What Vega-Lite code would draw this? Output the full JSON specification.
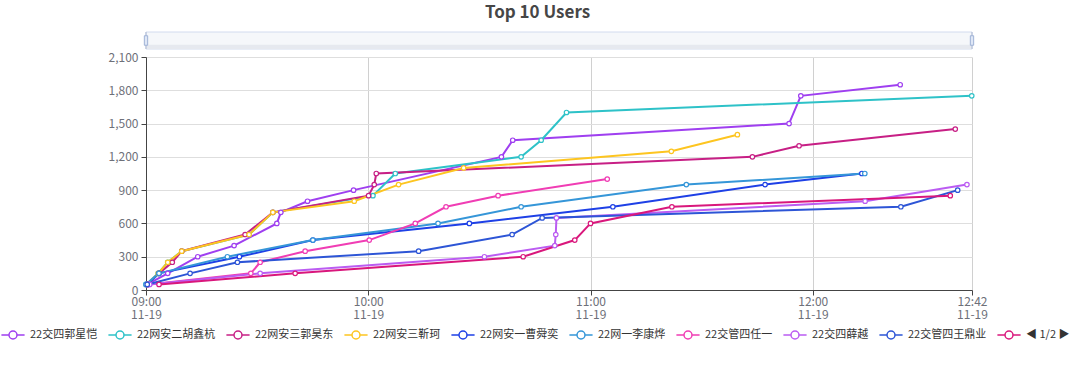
{
  "$schema": "https://vega.github.io/schema/vega-lite/v6.json",
  "background": "white",
  "padding": {"left": 5, "right": 0, "top": 3, "bottom": 0},
  "title": {"text": "Top 10 Users", "fontSize": 17, "font": "Noto Sans CJK SC", "fontWeight": "bold", "color": "#464646", "anchor": "middle", "offset": 10},
  "spacing": 1,
  "datasets": {
    "slider": [{"t0": "2023-11-19T09:00:00", "t1": "2023-11-19T12:42:59"}],
    "scores": [
      {"user": "22交四郭星恺", "time": "2023-11-19T09:00:20", "score": 50},
      {"user": "22交四郭星恺", "time": "2023-11-19T09:05:52", "score": 150},
      {"user": "22交四郭星恺", "time": "2023-11-19T09:13:58", "score": 300},
      {"user": "22交四郭星恺", "time": "2023-11-19T09:23:47", "score": 400},
      {"user": "22交四郭星恺", "time": "2023-11-19T09:35:19", "score": 600},
      {"user": "22交四郭星恺", "time": "2023-11-19T09:36:24", "score": 700},
      {"user": "22交四郭星恺", "time": "2023-11-19T09:43:36", "score": 800},
      {"user": "22交四郭星恺", "time": "2023-11-19T09:56:02", "score": 900},
      {"user": "22交四郭星恺", "time": "2023-11-19T10:35:57", "score": 1200},
      {"user": "22交四郭星恺", "time": "2023-11-19T10:39:00", "score": 1350},
      {"user": "22交四郭星恺", "time": "2023-11-19T11:53:36", "score": 1500},
      {"user": "22交四郭星恺", "time": "2023-11-19T11:56:46", "score": 1750},
      {"user": "22交四郭星恺", "time": "2023-11-19T12:23:36", "score": 1850},

      {"user": "22网安二胡鑫杭", "time": "2023-11-19T09:00:00", "score": 50},
      {"user": "22网安二胡鑫杭", "time": "2023-11-19T09:03:18", "score": 150},
      {"user": "22网安二胡鑫杭", "time": "2023-11-19T09:05:52", "score": 250},
      {"user": "22网安二胡鑫杭", "time": "2023-11-19T09:09:39", "score": 350},
      {"user": "22网安二胡鑫杭", "time": "2023-11-19T09:27:50", "score": 500},
      {"user": "22网安二胡鑫杭", "time": "2023-11-19T09:34:15", "score": 700},
      {"user": "22网安二胡鑫杭", "time": "2023-11-19T10:01:16", "score": 850},
      {"user": "22网安二胡鑫杭", "time": "2023-11-19T10:07:18", "score": 1050},
      {"user": "22网安二胡鑫杭", "time": "2023-11-19T10:41:16", "score": 1200},
      {"user": "22网安二胡鑫杭", "time": "2023-11-19T10:46:41", "score": 1350},
      {"user": "22网安二胡鑫杭", "time": "2023-11-19T10:53:31", "score": 1600},
      {"user": "22网安二胡鑫杭", "time": "2023-11-19T12:42:55", "score": 1750},

      {"user": "22网安三郭昊东", "time": "2023-11-19T09:00:20", "score": 50},
      {"user": "22网安三郭昊东", "time": "2023-11-19T09:03:30", "score": 150},
      {"user": "22网安三郭昊东", "time": "2023-11-19T09:07:06", "score": 250},
      {"user": "22网安三郭昊东", "time": "2023-11-19T09:09:39", "score": 350},
      {"user": "22网安三郭昊东", "time": "2023-11-19T09:26:45", "score": 500},
      {"user": "22网安三郭昊东", "time": "2023-11-19T09:34:15", "score": 700},
      {"user": "22网安三郭昊东", "time": "2023-11-19T10:00:05", "score": 850},
      {"user": "22网安三郭昊东", "time": "2023-11-19T10:01:37", "score": 950},
      {"user": "22网安三郭昊东", "time": "2023-11-19T10:02:10", "score": 1050},
      {"user": "22网安三郭昊东", "time": "2023-11-19T11:43:42", "score": 1200},
      {"user": "22网安三郭昊东", "time": "2023-11-19T11:56:18", "score": 1300},
      {"user": "22网安三郭昊东", "time": "2023-11-19T12:38:28", "score": 1450},

      {"user": "22网安三靳珂", "time": "2023-11-19T09:00:20", "score": 50},
      {"user": "22网安三靳珂", "time": "2023-11-19T09:03:18", "score": 150},
      {"user": "22网安三靳珂", "time": "2023-11-19T09:05:52", "score": 250},
      {"user": "22网安三靳珂", "time": "2023-11-19T09:09:39", "score": 350},
      {"user": "22网安三靳珂", "time": "2023-11-19T09:27:50", "score": 500},
      {"user": "22网安三靳珂", "time": "2023-11-19T09:34:15", "score": 700},
      {"user": "22网安三靳珂", "time": "2023-11-19T09:56:13", "score": 800},
      {"user": "22网安三靳珂", "time": "2023-11-19T10:08:11", "score": 950},
      {"user": "22网安三靳珂", "time": "2023-11-19T10:25:45", "score": 1100},
      {"user": "22网安三靳珂", "time": "2023-11-19T11:21:49", "score": 1250},
      {"user": "22网安三靳珂", "time": "2023-11-19T11:39:39", "score": 1400},

      {"user": "22网安一曹舜奕", "time": "2023-11-19T09:00:20", "score": 50},
      {"user": "22网安一曹舜奕", "time": "2023-11-19T09:03:30", "score": 150},
      {"user": "22网安一曹舜奕", "time": "2023-11-19T09:25:13", "score": 300},
      {"user": "22网安一曹舜奕", "time": "2023-11-19T09:45:03", "score": 450},
      {"user": "22网安一曹舜奕", "time": "2023-11-19T10:27:18", "score": 600},
      {"user": "22网安一曹舜奕", "time": "2023-11-19T11:06:02", "score": 750},
      {"user": "22网安一曹舜奕", "time": "2023-11-19T11:47:07", "score": 950},
      {"user": "22网安一曹舜奕", "time": "2023-11-19T12:13:15", "score": 1050},

      {"user": "22网一李康烨", "time": "2023-11-19T09:00:00", "score": 50},
      {"user": "22网一李康烨", "time": "2023-11-19T09:03:30", "score": 150},
      {"user": "22网一李康烨", "time": "2023-11-19T09:21:58", "score": 300},
      {"user": "22网一李康烨", "time": "2023-11-19T09:45:03", "score": 450},
      {"user": "22网一李康烨", "time": "2023-11-19T10:18:50", "score": 600},
      {"user": "22网一李康烨", "time": "2023-11-19T10:41:16", "score": 750},
      {"user": "22网一李康烨", "time": "2023-11-19T11:25:52", "score": 950},
      {"user": "22网一李康烨", "time": "2023-11-19T12:14:03", "score": 1050},

      {"user": "22交管四任一", "time": "2023-11-19T09:00:40", "score": 50},
      {"user": "22交管四任一", "time": "2023-11-19T09:28:18", "score": 150},
      {"user": "22交管四任一", "time": "2023-11-19T09:30:49", "score": 250},
      {"user": "22交管四任一", "time": "2023-11-19T09:42:58", "score": 350},
      {"user": "22交管四任一", "time": "2023-11-19T10:00:16", "score": 450},
      {"user": "22交管四任一", "time": "2023-11-19T10:12:42", "score": 600},
      {"user": "22交管四任一", "time": "2023-11-19T10:21:00", "score": 750},
      {"user": "22交管四任一", "time": "2023-11-19T10:35:03", "score": 850},
      {"user": "22交管四任一", "time": "2023-11-19T11:04:31", "score": 1000},

      {"user": "22交四薛越", "time": "2023-11-19T09:01:00", "score": 50},
      {"user": "22交四薛越", "time": "2023-11-19T09:30:49", "score": 150},
      {"user": "22交四薛越", "time": "2023-11-19T10:31:21", "score": 300},
      {"user": "22交四薛越", "time": "2023-11-19T10:50:21", "score": 400},
      {"user": "22交四薛越", "time": "2023-11-19T10:50:37", "score": 500},
      {"user": "22交四薛越", "time": "2023-11-19T10:50:48", "score": 650},
      {"user": "22交四薛越", "time": "2023-11-19T12:14:08", "score": 800},
      {"user": "22交四薛越", "time": "2023-11-19T12:41:37", "score": 950},

      {"user": "22交管四王鼎业", "time": "2023-11-19T09:00:20", "score": 50},
      {"user": "22交管四王鼎业", "time": "2023-11-19T09:11:54", "score": 150},
      {"user": "22交管四王鼎业", "time": "2023-11-19T09:24:41", "score": 250},
      {"user": "22交管四王鼎业", "time": "2023-11-19T10:13:36", "score": 350},
      {"user": "22交管四王鼎业", "time": "2023-11-19T10:38:50", "score": 500},
      {"user": "22交管四王鼎业", "time": "2023-11-19T10:46:57", "score": 650},
      {"user": "22交管四王鼎业", "time": "2023-11-19T12:23:47", "score": 750},
      {"user": "22交管四王鼎业", "time": "2023-11-19T12:39:07", "score": 900},

      {"user": "用户10", "time": "2023-11-19T09:03:31", "score": 50},
      {"user": "用户10", "time": "2023-11-19T09:40:16", "score": 150},
      {"user": "用户10", "time": "2023-11-19T10:41:49", "score": 300},
      {"user": "用户10", "time": "2023-11-19T10:55:45", "score": 450},
      {"user": "用户10", "time": "2023-11-19T11:00:00", "score": 600},
      {"user": "用户10", "time": "2023-11-19T11:21:58", "score": 750},
      {"user": "用户10", "time": "2023-11-19T12:37:07", "score": 850}
    ]
  },
  "vconcat": [
    {
      "width": 826,
      "height": 17,
      "data": {"name": "slider"},
      "layer": [
        {
          "mark": {"type": "rect", "fill": "#f5f7fa", "stroke": "#d2dbee", "strokeWidth": 1},
          "encoding": {
            "x": {"field": "t0", "type": "temporal", "scale": {"domain": [{"year": 2023, "month": 11, "date": 19, "hours": 9}, {"year": 2023, "month": 11, "date": 19, "hours": 12, "minutes": 42, "seconds": 59}]}, "axis": null},
            "x2": {"field": "t1"}
          }
        },
        {
          "mark": {"type": "rect", "fill": "#e6e9ef"},
          "encoding": {
            "x": {"field": "t0", "type": "temporal", "axis": null},
            "x2": {"field": "t1"},
            "y": {"datum": 0, "type": "quantitative", "scale": {"domain": [0, 1]}, "axis": null},
            "y2": {"datum": 0.25}
          }
        },
        {
          "mark": {"type": "rule", "color": "#acb8d1", "strokeWidth": 1},
          "encoding": {"x": {"field": "t0", "type": "temporal", "axis": null}}
        },
        {
          "mark": {"type": "rule", "color": "#acb8d1", "strokeWidth": 1},
          "encoding": {"x": {"field": "t1", "type": "temporal", "axis": null}}
        },
        {
          "mark": {"type": "point", "shape": "M-0.35,-1H0.35V1H-0.35Z", "size": 90, "filled": true, "fill": "#dfe7f6", "stroke": "#9fb2d6", "strokeWidth": 1, "opacity": 1},
          "encoding": {"x": {"field": "t0", "type": "temporal", "axis": null}, "y": {"datum": 0.5, "type": "quantitative"}}
        },
        {
          "mark": {"type": "point", "shape": "M-0.35,-1H0.35V1H-0.35Z", "size": 90, "filled": true, "fill": "#dfe7f6", "stroke": "#9fb2d6", "strokeWidth": 1, "opacity": 1},
          "encoding": {"x": {"field": "t1", "type": "temporal", "axis": null}, "y": {"datum": 0.5, "type": "quantitative"}}
        }
      ]
    },
    {
      "width": 826,
      "height": 233,
      "data": {"name": "scores"},
      "encoding": {
        "x": {
          "field": "time", "type": "temporal",
          "scale": {"domain": [{"year": 2023, "month": 11, "date": 19, "hours": 9}, {"year": 2023, "month": 11, "date": 19, "hours": 12, "minutes": 42, "seconds": 59}]},
          "axis": {
            "title": null,
            "values": [
              {"year": 2023, "month": 11, "date": 19, "hours": 9},
              {"year": 2023, "month": 11, "date": 19, "hours": 10},
              {"year": 2023, "month": 11, "date": 19, "hours": 11},
              {"year": 2023, "month": 11, "date": 19, "hours": 12},
              {"year": 2023, "month": 11, "date": 19, "hours": 12, "minutes": 42, "seconds": 59}
            ],
            "labelExpr": "[timeFormat(datum.value, '%H:%M'), timeFormat(datum.value, '%m-%d')]",
            "labelColor": "#6e7079", "labelFontSize": 12, "labelFont": "Noto Sans CJK SC",
            "labelOverlap": false, "labelFlush": false, "labelPadding": 1, "labelLineHeight": 13,
            "domainColor": "#444", "tickColor": "#444", "tickSize": 5,
            "gridColor": "#d0d0d0", "grid": true
          }
        },
        "y": {
          "field": "score", "type": "quantitative",
          "scale": {"domain": [0, 2100]},
          "axis": {
            "title": null,
            "values": [0, 300, 600, 900, 1200, 1500, 1800, 2100],
            "format": ",d",
            "labelColor": "#6e7079", "labelFontSize": 12, "labelFont": "Noto Sans CJK SC",
            "labelPadding": 3,
            "domainColor": "#444", "tickColor": "#444", "tickSize": 5,
            "gridColor": "#dedede"
          }
        },
        "color": {
          "field": "user", "type": "nominal",
          "scale": {
            "domain": ["22交四郭星恺", "22网安二胡鑫杭", "22网安三郭昊东", "22网安三靳珂", "22网安一曹舜奕", "22网一李康烨", "22交管四任一", "22交四薛越", "22交管四王鼎业", "用户10"],
            "range": ["#9f3ff0", "#2ec2c8", "#c71f85", "#fdc520", "#1e40e6", "#3596d8", "#f03db4", "#bb5cf2", "#2d55d6", "#d9177c"]
          },
          "legend": {
            "title": null,
            "orient": "none",
            "legendX": -141,
            "legendY": 295,
            "direction": "horizontal",
            "symbolType": "M-1.6,0H-0.55M0.55,0H1.6M0.55,0A0.55,0.55,0,1,1,-0.55,0A0.55,0.55,0,1,1,0.55,0",
            "symbolSize": 210,
            "symbolFillColor": "white",
            "symbolStrokeWidth": 1.5,
            "labelFontSize": 11,
            "labelFont": "Noto Sans CJK SC",
            "labelColor": "#333",
            "labelOffset": 9,
            "columnPadding": 7,
            "labelExpr": "datum.label == '用户10' ? '◀ 1/2 ▶' : datum.label"
          }
        }
      },
      "layer": [
        {"mark": {"type": "line", "strokeWidth": 2}},
        {"mark": {"type": "point", "filled": false, "fill": "white", "fillOpacity": 1, "opacity": 1, "size": 20, "strokeWidth": 1.2}}
      ]
    }
  ],
  "config": {
    "view": {"stroke": null},
    "font": "Noto Sans CJK SC"
  }
}
